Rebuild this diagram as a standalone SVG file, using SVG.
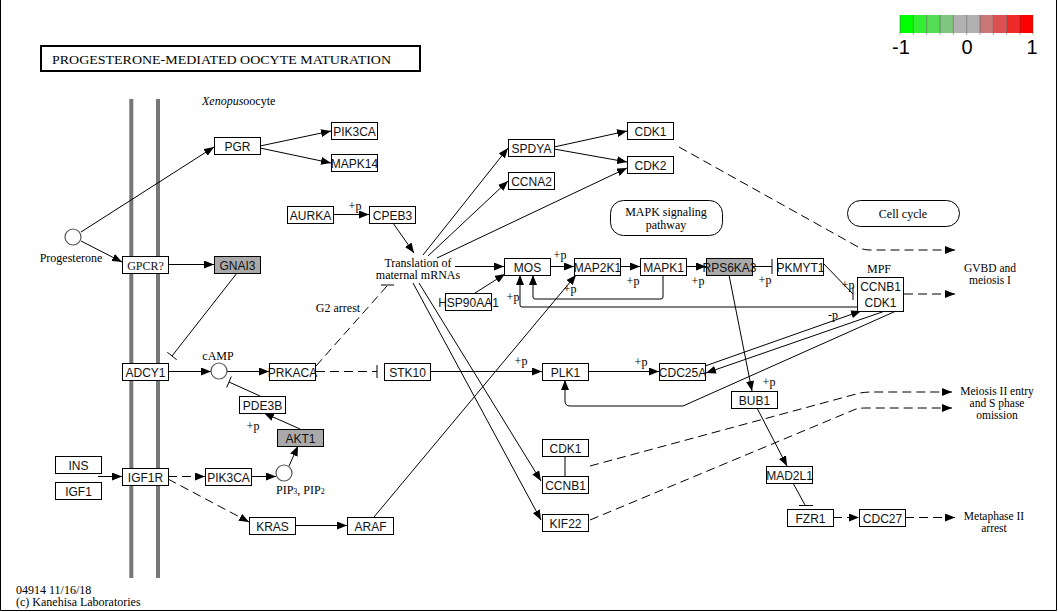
<svg xmlns="http://www.w3.org/2000/svg" width="1059" height="612" viewBox="0 0 1059 612">
<defs>
<style>
.n rect{fill:#fff;stroke:#000;stroke-width:1}
.n.gr rect{fill:#a9a9a9}
.n text{font-family:"Liberation Sans",Arial,sans-serif;font-size:12px;text-anchor:middle;fill:#111}
.n text.sf{font-family:"Liberation Serif","Times New Roman",serif}
.s{font-family:"Liberation Serif","Times New Roman",serif;font-size:12px;fill:#000}
.sm{font-size:11.5px}
.m{text-anchor:middle}
.e{fill:none;stroke:#000;stroke-width:1}
.d{stroke-dasharray:9,5}
.a{marker-end:url(#ar)}
.cir{fill:#fff;stroke:#555;stroke-width:1.2}
.mem{stroke:#777;stroke-width:4}
.lg{font-family:"Liberation Sans",Arial,sans-serif;font-size:20px;text-anchor:middle;fill:#000}
</style>
<marker id="ar" markerUnits="userSpaceOnUse" markerWidth="10" markerHeight="8" refX="10" refY="4" orient="auto"><path d="M0,0 L10,4 L0,8 z" fill="#000"/></marker>
</defs>
<rect x="0" y="0" width="1059" height="612" fill="#fff"/>
<g id="frame" stroke="#000" stroke-width="1" fill="none">
<path d="M0.5,0 L0.5,610.5 L1056.5,610.5 L1056.5,0"/>
</g>
<g id="title">
<rect x="41" y="46" width="379" height="25" fill="#fff" stroke="#000" stroke-width="2"/>
<text x="52" y="64" class="s" font-size="13.5" textLength="339" lengthAdjust="spacingAndGlyphs">PROGESTERONE-MEDIATED  OOCYTE  MATURATION</text>
</g>
<g id="legend">
<rect x="900" y="15" width="13.3" height="18" fill="#00ff00"/>
<rect x="913.3" y="15" width="13.4" height="18" fill="#33ee33"/>
<rect x="926.7" y="15" width="13.3" height="18" fill="#55dd55"/>
<rect x="940" y="15" width="13.3" height="18" fill="#80c680"/>
<rect x="953.3" y="15" width="13.4" height="18" fill="#b0b0b0"/>
<rect x="966.7" y="15" width="13.3" height="18" fill="#b0b0b0"/>
<rect x="980" y="15" width="13.3" height="18" fill="#c87878"/>
<rect x="993.3" y="15" width="13.4" height="18" fill="#dd5050"/>
<rect x="1006.7" y="15" width="13.3" height="18" fill="#ee2a2a"/>
<rect x="1020" y="15" width="13" height="18" fill="#ff0000"/>
<path d="M900,15 V35 M913.3,15 V35 M926.7,15 V35 M940,15 V35 M953.3,15 V35 M966.7,15 V35 M980,15 V35 M993.3,15 V35 M1006.7,15 V35 M1020,15 V35 M1033,15 V35" stroke="#444" stroke-width="0.8" stroke-opacity="0.6"/>
<text x="901" y="54" class="lg">-1</text>
<text x="967" y="54" class="lg">0</text>
<text x="1032" y="54" class="lg">1</text>
</g>
<g id="membrane">
<line x1="131.3" y1="99" x2="131.3" y2="578" class="mem"/>
<line x1="158" y1="99" x2="158" y2="578" class="mem"/>
</g>
<g id="connectors">
<path class="e a" d="M81,232 L214,147"/>
<path class="e a" d="M81,241 L122,262"/>
<path class="e a" d="M260,146 L331,131"/>
<path class="e a" d="M260,148 L331,163"/>
<path class="e a" d="M168,264.5 L214,264.5"/>
<path class="e" d="M237,273 L172,356 M167.3,352.3 L176.7,359.7"/>
<path class="e a" d="M168,371.5 L211,371.5"/>
<path class="e a" d="M227,371.5 L269,371.5"/>
<path class="e" d="M260,396 L229,382 M231.3,376.5 L226.7,387.5"/>
<path class="e a" d="M300,429 L264,413"/>
<path class="e a" d="M289,466 L298,446"/>
<path class="e a" d="M251,476.5 L276,476.5"/>
<path class="e a" d="M98,476.5 L122,476.5"/>
<path class="e a d" d="M168,476.5 L205,476.5"/>
<path class="e a d" d="M168,479 L249,522"/>
<path class="e a" d="M295,525.5 L347,525.5"/>
<path class="e a" d="M374,517 L576,275"/>
<path class="e a" d="M333,214.5 L369,214.5"/>
<path class="e a" d="M393,223 L414,253"/>
<path class="e a" d="M423,255 L508,148"/>
<path class="e a" d="M428,256 L508,181"/>
<path class="e a" d="M437,258 L627,168"/>
<path class="e a" d="M554,147 L627,131"/>
<path class="e a" d="M554,149 L627,162"/>
<path class="e a" d="M455,266.5 L504,266.5"/>
<path class="e a" d="M475,293 L505,274"/>
<path class="e a" d="M550,266.5 L574,266.5"/>
<path class="e a" d="M620,266.5 L640,266.5"/>
<path class="e a" d="M686,266.5 L706,266.5"/>
<path class="e" d="M752,266.5 L772,266.5 M772,259 L772,274"/>
<path class="e a" d="M663,275 L663,297 Q663,299 661,299 L535,299 Q533,299 533,297 L533,275"/>
<path class="e a" d="M857,307 L522,307 Q520,307 520,305 L520,275"/>
<path class="e" d="M823,263 L853,294 M853,287 L853,300"/>
<path class="e a d" d="M904,294 L955,294"/>
<path class="e a d" d="M679,147 L860,248 Q864,250 870,250 L955,250"/>
<path class="e a" d="M413,283 L541,520"/>
<path class="e a" d="M419,283 L541,481"/>
<path class="e d" d="M316,366 L387,286"/>
<path class="e" d="M381,285 L394,285"/>
<path class="e d" d="M316,371.5 L377,371.5"/>
<path class="e" d="M377,365 L377,378"/>
<path class="e a" d="M430,371.5 L542,371.5"/>
<path class="e a" d="M588,371.5 L659,371.5"/>
<path class="e a" d="M705,366 L861,311"/>
<path class="e a" d="M885,311 L706,373"/>
<path class="e a" d="M896,311 L683,406 L570,406 Q565,406 565,401 L565,380"/>
<path class="e a" d="M729,275 L752,391"/>
<path class="e a" d="M757,408 L787,466"/>
<path class="e" d="M793,483 L805,505 M799,505.5 L813,505.5"/>
<path class="e a d" d="M833,517.5 L859,517.5"/>
<path class="e a d" d="M905,517.5 L955,517.5"/>
<path class="e a d" d="M590,466 L860,393 Q866,392 872,392 L952,392"/>
<path class="e a d" d="M590,520 L856,409 Q860,408 866,408 L952,408"/>
<path class="e" d="M565,456 L565,476"/>
</g>
<g id="cpd_progesterone"><circle cx="73" cy="237" r="8" class="cir"/><text x="71" y="262" class="s m">Progesterone</text></g>
<g id="cpd_camp"><circle cx="219" cy="371" r="8" class="cir"/><text x="218" y="360" class="s m">cAMP</text></g>
<g id="cpd_pip"><circle cx="284" cy="473" r="8" class="cir"/><text x="276" y="494" class="s">PIP<tspan font-size="8">3</tspan>, PIP<tspan font-size="8">2</tspan></text></g>
<g id="PGR" class="n"><rect x="214.5" y="137.5" width="46" height="17"/><text x="237.5" y="150.5">PGR</text></g>
<g id="PIK3CA_a" class="n"><rect x="331.5" y="122.5" width="46" height="17"/><text x="354.5" y="135.5">PIK3CA</text></g>
<g id="MAPK14" class="n"><rect x="331.5" y="154.5" width="46" height="17"/><text x="354.5" y="167.5">MAPK14</text></g>
<g id="AURKA" class="n"><rect x="287.5" y="206.5" width="46" height="17"/><text x="310.5" y="219.5">AURKA</text></g>
<g id="CPEB3" class="n"><rect x="369.5" y="206.5" width="46" height="17"/><text x="392.5" y="219.5">CPEB3</text></g>
<g id="SPDYA" class="n"><rect x="508.5" y="139.5" width="46" height="17"/><text x="531.5" y="152.5">SPDYA</text></g>
<g id="CCNA2" class="n"><rect x="508.5" y="172.5" width="46" height="17"/><text x="531.5" y="185.5">CCNA2</text></g>
<g id="CDK1_a" class="n"><rect x="627.5" y="122.5" width="46" height="17"/><text x="650.5" y="135.5">CDK1</text></g>
<g id="CDK2" class="n"><rect x="627.5" y="156.5" width="46" height="17"/><text x="650.5" y="169.5">CDK2</text></g>
<g id="MAPK_pathway"><rect x="610.5" y="200.5" width="112" height="35" rx="13" fill="#fff" stroke="#000"/><text x="666" y="216" class="s m">MAPK signaling</text><text x="666" y="229" class="s m">pathway</text></g>
<g id="Cell_cycle"><rect x="847.5" y="200.5" width="112" height="26" rx="13" fill="#fff" stroke="#000"/><text x="903" y="218" class="s m">Cell cycle</text></g>
<g id="GPCR" class="n"><rect x="122.5" y="256.5" width="46" height="17"/><text class="sf" x="145.5" y="269.5">GPCR?</text></g>
<g id="GNAI3" class="n gr"><rect x="214.5" y="256.5" width="46" height="17"/><text x="237.5" y="269.5">GNAI3</text></g>
<g id="MOS" class="n"><rect x="504.5" y="258.5" width="46" height="17"/><text x="527.5" y="271.5">MOS</text></g>
<g id="MAP2K1" class="n"><rect x="574.5" y="258.5" width="46" height="17"/><text x="597.5" y="271.5">MAP2K1</text></g>
<g id="MAPK1" class="n"><rect x="640.5" y="258.5" width="46" height="17"/><text x="663.5" y="271.5">MAPK1</text></g>
<g id="RPS6KA3" class="n gr"><rect x="706.5" y="258.5" width="46" height="17"/><text x="729.5" y="271.5">RPS6KA3</text></g>
<g id="PKMYT1" class="n"><rect x="777.5" y="258.5" width="46" height="17"/><text x="800.5" y="271.5">PKMYT1</text></g>
<g id="MPF" class="n"><rect x="857.5" y="277.5" width="46" height="34"/><text x="880.5" y="290.5">CCNB1</text><text x="880.5" y="306.5">CDK1</text></g>
<g id="HSP90AA1" class="n"><rect x="445.5" y="293.5" width="46" height="17"/><text x="468.5" y="306.5">HSP90AA1</text></g>
<g id="ADCY1" class="n"><rect x="122.5" y="363.5" width="46" height="17"/><text x="145.5" y="376.5">ADCY1</text></g>
<g id="PRKACA" class="n"><rect x="269.5" y="363.5" width="46" height="17"/><text x="292.5" y="376.5">PRKACA</text></g>
<g id="STK10" class="n"><rect x="384.5" y="363.5" width="46" height="17"/><text x="407.5" y="376.5">STK10</text></g>
<g id="PLK1" class="n"><rect x="542.5" y="363.5" width="46" height="17"/><text x="565.5" y="376.5">PLK1</text></g>
<g id="CDC25A" class="n"><rect x="659.5" y="363.5" width="46" height="17"/><text x="682.5" y="376.5">CDC25A</text></g>
<g id="PDE3B" class="n"><rect x="239.5" y="396.5" width="46" height="17"/><text x="262.5" y="409.5">PDE3B</text></g>
<g id="AKT1" class="n gr"><rect x="277.5" y="429.5" width="46" height="17"/><text x="300.5" y="442.5">AKT1</text></g>
<g id="BUB1" class="n"><rect x="731.5" y="391.5" width="46" height="17"/><text x="754.5" y="404.5">BUB1</text></g>
<g id="CDK1_b" class="n"><rect x="542.5" y="439.5" width="46" height="17"/><text x="565.5" y="452.5">CDK1</text></g>
<g id="CCNB1" class="n"><rect x="542.5" y="476.5" width="46" height="17"/><text x="565.5" y="489.5">CCNB1</text></g>
<g id="KIF22" class="n"><rect x="542.5" y="514.5" width="46" height="17"/><text x="565.5" y="527.5">KIF22</text></g>
<g id="INS" class="n"><rect x="55.5" y="456.5" width="46" height="17"/><text x="78.5" y="469.5">INS</text></g>
<g id="IGF1" class="n"><rect x="55.5" y="482.5" width="46" height="17"/><text x="78.5" y="495.5">IGF1</text></g>
<g id="IGF1R" class="n"><rect x="122.5" y="468.5" width="46" height="17"/><text x="145.5" y="481.5">IGF1R</text></g>
<g id="PIK3CA_b" class="n"><rect x="205.5" y="468.5" width="46" height="17"/><text x="228.5" y="481.5">PIK3CA</text></g>
<g id="MAD2L1" class="n"><rect x="766.5" y="466.5" width="46" height="17"/><text x="789.5" y="479.5">MAD2L1</text></g>
<g id="FZR1" class="n"><rect x="787.5" y="509.5" width="46" height="17"/><text x="810.5" y="522.5">FZR1</text></g>
<g id="CDC27" class="n"><rect x="859.5" y="509.5" width="46" height="17"/><text x="882.5" y="522.5">CDC27</text></g>
<g id="KRAS" class="n"><rect x="249.5" y="517.5" width="46" height="17"/><text x="272.5" y="530.5">KRAS</text></g>
<g id="ARAF" class="n"><rect x="347.5" y="517.5" width="46" height="17"/><text x="370.5" y="530.5">ARAF</text></g>
<g id="labels">
<text x="202" y="105" class="s"><tspan font-style="italic">Xenopus</tspan>oocyte</text>
<text x="338" y="312" class="s m">G2 arrest</text>
<text x="418" y="267" class="s m">Translation of</text>
<text x="418" y="279" class="s m">maternal mRNAs</text>
<text x="879" y="273" class="s m">MPF</text>
<text x="990" y="272" class="s sm m">GVBD and</text>
<text x="990" y="284" class="s sm m">meiosis I</text>
<text x="997" y="395" class="s sm m">Meiosis II entry</text>
<text x="997" y="407" class="s sm m">and S phase</text>
<text x="997" y="419" class="s sm m">omission</text>
<text x="994" y="520" class="s sm m">Metaphase II</text>
<text x="994" y="532" class="s sm m">arrest</text>
<text x="355" y="210" class="s m">+p</text>
<text x="560" y="259" class="s m">+p</text>
<text x="570" y="293" class="s m">+p</text>
<text x="633" y="285" class="s m">+p</text>
<text x="698" y="285" class="s m">+p</text>
<text x="765" y="284" class="s m">+p</text>
<text x="513" y="301" class="s m">+p</text>
<text x="848" y="289" class="s m">+p</text>
<text x="521" y="365" class="s m">+p</text>
<text x="641" y="366" class="s m">+p</text>
<text x="769" y="386" class="s m">+p</text>
<text x="253" y="430" class="s m">+p</text>
<text x="833" y="319" class="s m">-p</text>
<text x="16" y="594" class="s">04914 11/16/18</text>
<text x="16" y="606" class="s">(c) Kanehisa Laboratories</text>
</g>
</svg>
